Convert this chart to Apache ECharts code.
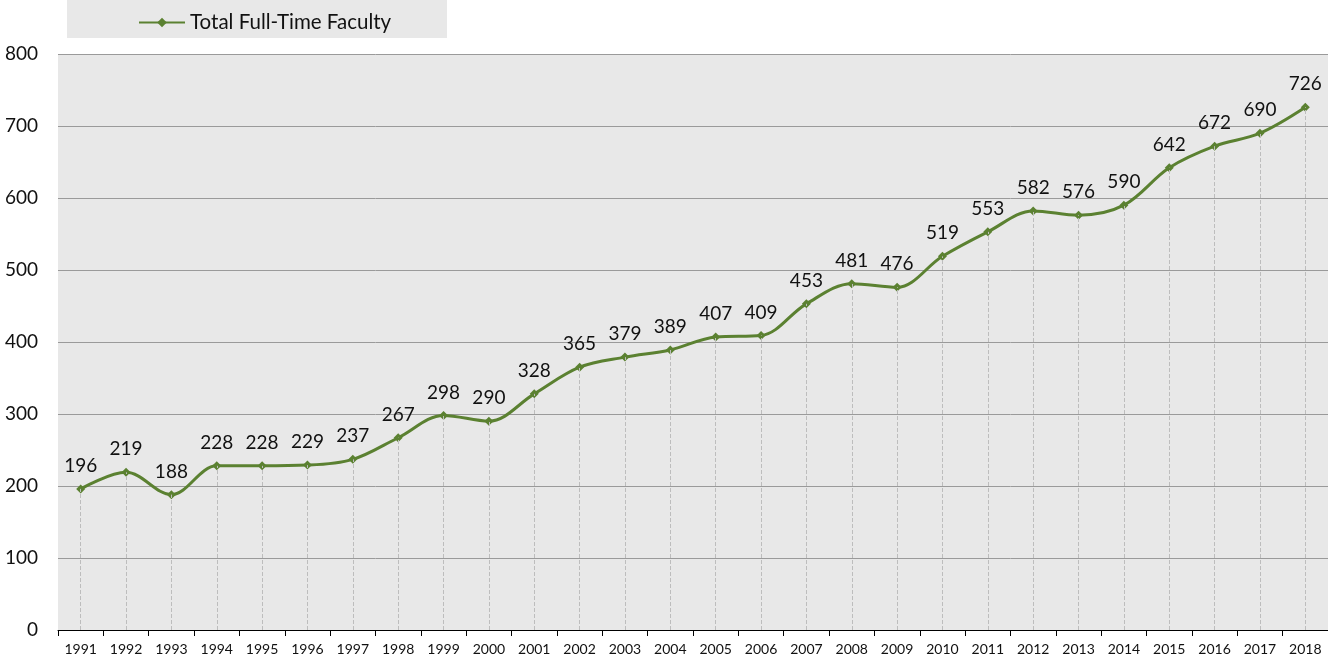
<!DOCTYPE html>
<html>
<head>
<meta charset="utf-8">
<script src="https://cdn.jsdelivr.net/npm/echarts@6/dist/echarts.min.js"></script>
<style>
html,body{margin:0;padding:0;background:#fff;}
#main{width:1328px;height:662px;}
</style>
</head>
<body>
<div id="main"></div>
<script>
var years = ['1991','1992','1993','1994','1995','1996','1997','1998','1999','2000','2001','2002','2003','2004',
    '2005','2006','2007','2008','2009','2010','2011','2012','2013','2014','2015','2016','2017','2018'];
var faculty = [196,219,188,228,228,229,237,267,298,290,328,365,379,389,407,409,453,481,476,519,553,582,576,590,642,672,690,726];
var yTicks = [0,100,200,300,400,500,600,700,800];

var green = '#5b8131';
var font = 'Lato, "Open Sans", sans-serif';

// dashed drop lines from each point down to the axis
var drops = [];
for (var i = 0; i < years.length; i++) {
    drops.push([{coord: [i, 0]}, {coord: [i, faculty[i]]}]);
}

var options = {
    animation: false,
    textStyle: {fontFamily: font},
    graphic: [{
        type: 'rect',
        left: 67, top: 0,
        shape: {width: 380, height: 38},
        style: {fill: '#e8e8e8'},
        z: -1
    }],
    legend: {
        left: 133, top: 7,
        itemWidth: 46, itemHeight: 12,
        itemGap: 4,
        textStyle: {fontSize: 20.5, color: '#111', fontFamily: font},
        data: ['Total Full-Time Faculty']
    },
    grid: {
        left: 58, right: 0, top: 54, bottom: 32,
        show: true, backgroundColor: '#e8e8e8', borderWidth: 0
    },
    xAxis: {
        type: 'category',
        data: years,
        boundaryGap: true,
        axisLine: {lineStyle: {color: '#000', width: 1}},
        axisTick: {show: true, length: 6, lineStyle: {color: '#000'}},
        axisLabel: {fontSize: 14, color: '#111', margin: 12, fontFamily: font},
        splitLine: {show: false}
    },
    yAxis: {
        type: 'value',
        min: yTicks[0], max: yTicks[yTicks.length - 1], interval: 100,
        axisLine: {show: false},
        axisTick: {show: false},
        axisLabel: {fontSize: 19, color: '#111', margin: 20, fontFamily: font},
        splitLine: {lineStyle: {color: '#9a9a9a', width: 1}}
    },
    series: [{
        name: 'Total Full-Time Faculty',
        type: 'line',
        data: faculty,
        smooth: 0.35,
        symbol: 'diamond',
        symbolSize: 9,
        lineStyle: {color: green, width: 3},
        itemStyle: {color: green},
        label: {
            show: true, position: 'top', distance: 9,
            fontSize: 19, color: '#111', fontFamily: font
        },
        markLine: {
            silent: true,
            symbol: ['none', 'none'],
            label: {show: false},
            lineStyle: {type: 'dashed', color: '#bdbdbd', width: 1},
            data: drops
        },
        z: 3
    }]
};

var myChart = echarts.init(document.getElementById('main'));
myChart.setOption(options);
</script>
</body>
</html>
